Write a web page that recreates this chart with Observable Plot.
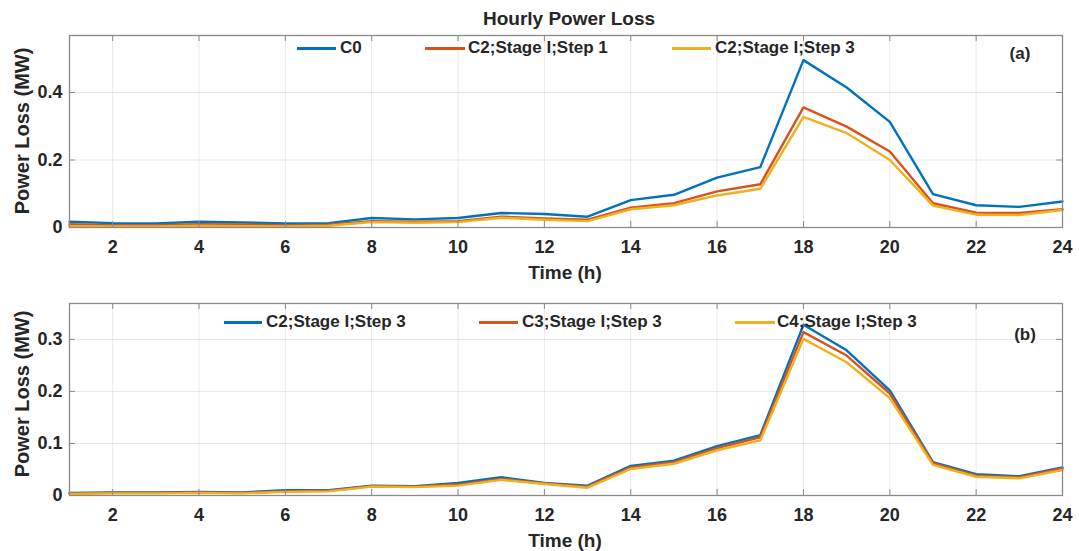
<!DOCTYPE html>
<html><head><meta charset="utf-8">
<script src="https://cdn.jsdelivr.net/npm/d3@7"></script>
<script src="https://cdn.jsdelivr.net/npm/@observablehq/plot@0.6"></script>
<style>
body{margin:0;background:#fff;font-family:"Liberation Sans",Arial,sans-serif;color:#262626}
#root{position:relative;width:1079px;height:551px;overflow:hidden}
.abs{position:absolute;white-space:nowrap;font-weight:bold}
.svgwrap{position:absolute;left:0}
.lg-line{position:absolute;height:3px}
</style></head><body><div id="root"></div><script>
// ---- data ----
const hours = [1,2,3,4,5,6,7,8,9,10,11,12,13,14,15,16,17,18,19,20,21,22,23,24];
const xTicks = [2,4,6,8,10,12,14,16,18,20,22,24];

// panel (a)
const seriesA = ["C0", "C2;Stage I;Step 1", "C2;Stage I;Step 3"];
const c0     = [0.017,0.013,0.012,0.017,0.015,0.012,0.013,0.028,0.024,0.028,0.043,0.040,0.032,0.081,0.097,0.148,0.179,0.496,0.415,0.313,0.099,0.066,0.061,0.077];
const c2s1   = [0.010,0.007,0.007,0.010,0.009,0.007,0.008,0.019,0.017,0.019,0.032,0.027,0.023,0.059,0.072,0.107,0.128,0.356,0.299,0.225,0.072,0.044,0.043,0.054];
const c2s3a  = [0.004,0.003,0.003,0.005,0.004,0.003,0.005,0.016,0.014,0.016,0.029,0.023,0.019,0.054,0.066,0.095,0.115,0.328,0.280,0.200,0.065,0.038,0.037,0.052];
const yTicksA = [0, 0.2, 0.4];

// panel (b)
const seriesB = ["C2;Stage I;Step 3", "C3;Stage I;Step 3", "C4;Stage I;Step 3"];
const c2s3b  = [0.005,0.006,0.006,0.007,0.006,0.010,0.010,0.019,0.018,0.024,0.035,0.024,0.019,0.057,0.067,0.095,0.116,0.328,0.279,0.202,0.064,0.041,0.037,0.054];
const c3s3   = [0.004,0.005,0.005,0.006,0.005,0.008,0.009,0.018,0.017,0.021,0.032,0.023,0.017,0.054,0.064,0.091,0.112,0.314,0.269,0.196,0.062,0.038,0.035,0.052];
const c4s3   = [0.003,0.004,0.004,0.005,0.004,0.007,0.008,0.017,0.016,0.019,0.030,0.022,0.015,0.051,0.061,0.087,0.106,0.301,0.256,0.187,0.059,0.036,0.033,0.049];
const yTicksB = [0, 0.1, 0.2, 0.3];

const colors = ["#0072BD", "#D95319", "#EDB120"];

function rows(names, arrays) {
  const out = [];
  names.forEach((n, i) => arrays[i].forEach((v, j) => out.push({series: n, hour: hours[j], value: v})));
  return out;
}

const W = 1079, ML = 69, MR = 17;
function panel({names, arrays, yDomain, yTicks, height, marginTop, marginBottom}) {
  const innerH = height - marginTop - marginBottom;
  const innerW = W - ML - MR;
  const data = rows(names, arrays);
  return Plot.plot({
    width: W, height, marginLeft: ML, marginRight: MR, marginTop, marginBottom,
    style: {fontFamily: "'Liberation Sans', Arial, sans-serif", fontWeight: "bold", fontSize: "18px", color: "#262626", background: "transparent"},
    x: {domain: [1, 24]},
    y: {domain: yDomain},
    color: {domain: names, range: colors},
    marks: [
      Plot.gridX(xTicks, {stroke: "#000", strokeOpacity: 0.09}),
      Plot.gridY(yTicks, {stroke: "#000", strokeOpacity: 0.09}),
      Plot.line(data, {x: "hour", y: "value", z: "series", stroke: "series", strokeWidth: 2.4}),
      Plot.ruleX(xTicks, {x: d => d, insetBottom: innerH - 6, stroke: "#8a8a8a"}),
      Plot.ruleX(xTicks, {x: d => d, insetTop: innerH - 6, stroke: "#8a8a8a"}),
      Plot.ruleY(yTicks, {y: d => d, insetRight: innerW - 6, stroke: "#8a8a8a"}),
      Plot.ruleY(yTicks, {y: d => d, insetLeft: innerW - 6, stroke: "#8a8a8a"}),
      Plot.frame({stroke: "#8a8a8a", strokeWidth: 1.3}),
      Plot.axisX(xTicks, {tickSize: 0, tickPadding: 13, label: null, fill: "#262626"}),
      Plot.axisY(yTicks, {tickSize: 0, tickPadding: 7, label: null, fill: "#262626", tickFormat: d => String(d)})
    ]
  });
}

const root = document.getElementById("root");
function addText(txt, css) {
  const d = document.createElement("div");
  d.className = "abs";
  d.textContent = txt;
  Object.assign(d.style, css);
  root.appendChild(d);
  return d;
}
function addSvg(svg, top) {
  const w = document.createElement("div");
  w.className = "svgwrap";
  w.style.top = top + "px";
  w.appendChild(svg);
  root.appendChild(w);
}
function legend(names, items, yc) {
  names.forEach((n, i) => {
    const [x0, x1, tx] = items[i];
    const l = document.createElement("div");
    l.className = "lg-line";
    Object.assign(l.style, {left: x0 + "px", width: (x1 - x0) + "px", top: (yc - 1.5) + "px", background: colors[i]});
    root.appendChild(l);
    addText(n, {left: tx + "px", top: (yc - 10) + "px", fontSize: "17px", lineHeight: "20px"});
  });
}

addSvg(panel({names: seriesA, arrays: [c0, c2s1, c2s3a], yDomain: [0, 0.569], yTicks: yTicksA, height: 280, marginTop: 35, marginBottom: 53}), 0);
addSvg(panel({names: seriesB, arrays: [c2s3b, c3s3, c4s3], yDomain: [0, 0.369], yTicks: yTicksB, height: 271, marginTop: 23, marginBottom: 56}), 280);

// title
addText("Hourly Power Loss", {left: "569px", top: "8px", transform: "translateX(-50%)", fontSize: "19px", lineHeight: "22px"});
// x labels
addText("Time (h)", {left: "565px", top: "261px", transform: "translateX(-50%)", fontSize: "19px", lineHeight: "24px"});
addText("Time (h)", {left: "565px", top: "529px", transform: "translateX(-50%)", fontSize: "19px", lineHeight: "24px"});
// y labels
addText("Power Loss (MW)", {left: "22px", top: "131px", transform: "translate(-50%,-50%) rotate(-90deg)", fontSize: "20px", lineHeight: "24px"});
addText("Power Loss (MW)", {left: "22px", top: "394px", transform: "translate(-50%,-50%) rotate(-90deg)", fontSize: "20px", lineHeight: "24px"});
// panel tags
addText("(a)", {left: "1020px", top: "54px", transform: "translate(-50%,-50%)", fontSize: "17px", lineHeight: "20px"});
addText("(b)", {left: "1025px", top: "335px", transform: "translate(-50%,-50%)", fontSize: "17px", lineHeight: "20px"});
// legends
legend(seriesA, [[297, 336, 340], [425, 465, 468], [672, 711, 715]], 48);
legend(seriesB, [[224, 262, 266], [479, 518, 522], [735, 775, 777]], 322);
</script></body></html>
